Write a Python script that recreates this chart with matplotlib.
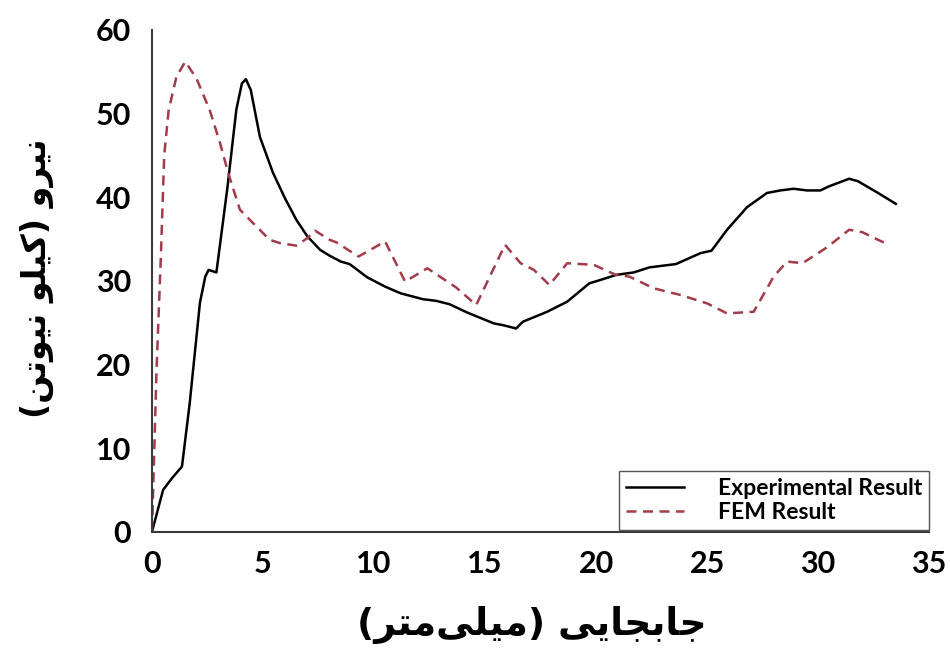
import matplotlib
matplotlib.use("Agg")
import matplotlib.pyplot as plt
from matplotlib import font_manager
from matplotlib.ft2font import FT2Font

# Displacement (mm) / force (kN)
exp_x = [0, 0.5, 0.9, 1.35, 1.7, 2.16, 2.4, 2.55, 2.9, 3.4, 3.8, 4.05, 4.23,
         4.45, 4.86, 5.45, 6.0, 6.5, 7.0, 7.57, 8.0, 8.5, 8.9, 9.7, 10.5,
         11.2, 12.2, 12.8, 13.4, 14.2, 15.4, 15.8, 16.4, 16.7, 17.8, 18.7,
         19.7, 20.2, 20.9, 21.7, 22.4, 23.6, 24.7, 25.2, 25.9, 26.8, 27.7,
         28.3, 28.9, 29.5, 30.1, 30.5, 31.4, 31.8, 32.7, 33.5]
exp_y = [0, 5.0, 6.4, 7.8, 15.4, 27.4, 30.5, 31.3, 31.0, 41.2, 50.5, 53.6,
         54.1, 52.8, 47.2, 42.9, 39.8, 37.3, 35.3, 33.7, 33.0, 32.3, 32.0,
         30.4, 29.3, 28.5, 27.8, 27.6, 27.2, 26.2, 24.9, 24.7, 24.3, 25.1,
         26.3, 27.5, 29.7, 30.1, 30.7, 31.0, 31.6, 32.0, 33.3, 33.6, 36.1,
         38.8, 40.5, 40.8, 41.0, 40.8, 40.8, 41.3, 42.2, 41.9, 40.5, 39.2]

fem_x = [0, 0.2, 0.4, 0.55, 0.75, 1.1, 1.5, 2.0, 2.6, 3.06, 3.43, 3.96, 4.55,
         5.3, 5.77, 6.5, 7.0, 7.34, 8.0, 8.3, 9.3, 10.5, 11.4, 12.4, 13.7,
         14.6, 15.9, 16.6, 17.2, 17.9, 18.7, 19.9, 20.9, 21.5, 22.6, 23.8,
         25.0, 25.9, 27.1, 28.0, 28.6, 29.3, 30.4, 31.4, 32.0, 32.7, 33.2]
fem_y = [0, 19.0, 33.0, 45.0, 50.4, 54.4, 56.2, 54.2, 50.4, 46.5, 42.9, 38.5,
         36.9, 34.9, 34.5, 34.2, 35.1, 36.0, 34.9, 34.6, 32.9, 34.7, 29.9,
         31.5, 29.2, 27.1, 34.3, 32.1, 31.3, 29.5, 32.1, 31.9, 30.7, 30.5,
         29.1, 28.3, 27.3, 26.1, 26.3, 30.5, 32.3, 32.1, 34.0, 36.1, 35.8,
         34.9, 34.3]

x_ticks = [0, 5, 10, 15, 20, 25, 30, 35]
y_ticks = [0, 10, 20, 30, 40, 50, 60]

xlabel_fa = "جابجایی (میلی\u200cمتر)"
ylabel_fa = "نیرو (کیلو نیوتن)"
legend_labels = ["Experimental Result", "FEM Result"]


# matplotlib has no Arabic shaping, so pick presentation forms by hand
# (isolated, final, initial, medial); right-joining letters have no ini/med
FORMS = {
    "\u0627": ("\uFE8D", "\uFE8E", None, None),          # alef
    "\u0628": ("\uFE8F", "\uFE90", "\uFE91", "\uFE92"),  # beh
    "\u062A": ("\uFE95", "\uFE96", "\uFE97", "\uFE98"),  # teh
    "\u062C": ("\uFE9D", "\uFE9E", "\uFE9F", "\uFEA0"),  # jeem
    "\u0631": ("\uFEAD", "\uFEAE", None, None),          # reh
    "\u0644": ("\uFEDD", "\uFEDE", "\uFEDF", "\uFEE0"),  # lam
    "\u0645": ("\uFEE1", "\uFEE2", "\uFEE3", "\uFEE4"),  # meem
    "\u0646": ("\uFEE5", "\uFEE6", "\uFEE7", "\uFEE8"),  # noon
    "\u0648": ("\uFEED", "\uFEEE", None, None),          # waw
    "\u06A9": ("\uFB8E", "\uFB8F", "\uFB90", "\uFB91"),  # keheh
    "\u06CC": ("\uFBFC", "\uFBFD", "\uFBFE", "\uFBFF"),  # farsi yeh
}


def shape(text):
    out = []
    for i, c in enumerate(text):
        if c == "\u200c":
            continue
        if c not in FORMS:
            out.append(c)
            continue
        iso, fin, ini, med = FORMS[c]
        prev = text[i - 1] if i > 0 else None
        nxt = text[i + 1] if i + 1 < len(text) else None
        join_prev = prev in FORMS and FORMS[prev][2] is not None
        join_next = nxt in FORMS and ini is not None
        if join_prev and join_next:
            out.append(med)
        elif join_prev:
            out.append(fin)
        elif join_next:
            out.append(ini)
        else:
            out.append(iso)
    vis = "".join(reversed(out))
    return vis.translate(str.maketrans("()", ")("))


def arabic_weight(chars):
    # use bold DejaVu if it has the glyphs, otherwise the regular face
    for w in ["bold", "normal"]:
        path = font_manager.findfont(
            font_manager.FontProperties(family="DejaVu Sans", weight=w))
        cmap = FT2Font(path).get_charmap()
        if all(ord(ch) in cmap for ch in chars if ch.strip()):
            return w
    return "normal"


xl = shape(xlabel_fa)
yl = shape(ylabel_fa)
fa_weight = arabic_weight(xl + yl)

plt.rcParams["font.family"] = ["Lato", "DejaVu Sans"]

fig = plt.figure(figsize=(9.5, 6.63), dpi=100)
ax = fig.add_axes([0.16, 0.198, 0.818, 0.757])

ax.plot(exp_x, exp_y, color="black", lw=1.8, label=legend_labels[0])
ax.plot(fem_x, fem_y, color="#A23B4A", lw=1.8, dashes=(4, 2.6),
        label=legend_labels[1])

ax.set_xlim(0, 35)
ax.set_ylim(0, 60)
ax.set_xticks(x_ticks)
ax.set_yticks(y_ticks)
ax.tick_params(length=0, labelsize=22)
ax.tick_params(axis="x", pad=13)
ax.tick_params(axis="y", pad=15)
for lab in ax.get_xticklabels() + ax.get_yticklabels():
    lab.set_fontweight("bold")

for s in ["top", "right"]:
    ax.spines[s].set_visible(False)
for s in ["left", "bottom"]:
    ax.spines[s].set_color("#3a3a3a")
    ax.spines[s].set_linewidth(1.5)

leg = ax.legend(loc="lower right", bbox_to_anchor=(1.0, 0.004),
                borderaxespad=0, fancybox=False, edgecolor="#555555",
                framealpha=1, handlelength=2.5, handletextpad=1.5,
                borderpad=0.3, labelspacing=0.12,
                prop={"weight": "bold", "size": 16.5})
leg.get_frame().set_linewidth(1.0)

fig.text(0.56, 0.057, xl, ha="center", va="center", fontsize=27,
         family="DejaVu Sans", weight=fa_weight)
fig.text(0.039, 0.58, yl, ha="center", va="center", fontsize=24,
         family="DejaVu Sans", weight=fa_weight, rotation=90)

fig.savefig("out.png", dpi=100)
